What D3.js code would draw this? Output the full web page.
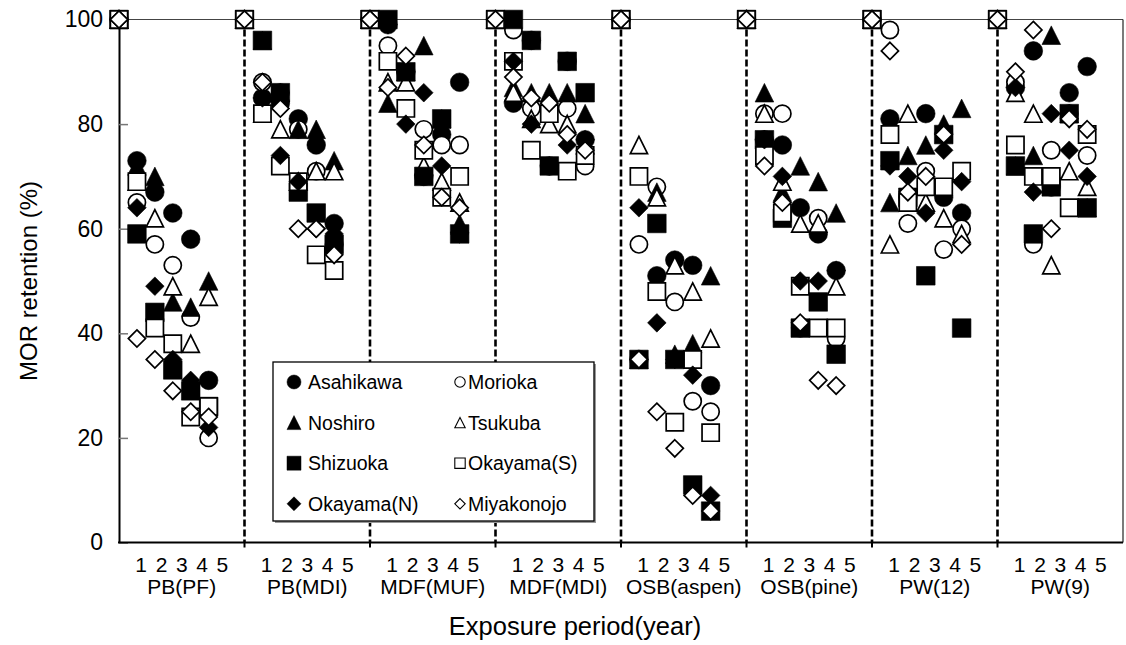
<!DOCTYPE html>
<html>
<head>
<meta charset="utf-8">
<script src="https://cdn.jsdelivr.net/npm/d3@7"></script>
<style>
  body { margin: 0; background: #fff; }
  text { font-family: "Liberation Sans", Arial, sans-serif; fill: #000; }
</style>
</head>
<body>
<div id="chart"></div>
<script>
// boards and exposure years
var panels = ["PB(PF)", "PB(MDI)", "MDF(MUF)", "MDF(MDI)", "OSB(aspen)", "OSB(pine)", "PW(12)", "PW(9)"];
var years = [1, 2, 3, 4, 5];
var start = 100; // year 0 value

// MOR retention (%) per site, 5 years per panel, panels in order above
var asahikawa  = [73,67,63,58,31, 85,84,81,76,61, 99,90,70,78,88, 84,96,72,92,77, 35,51,54,53,30, 77,76,64,59,52, 81,66,82,66,63, 87,94,68,86,91];
var morioka    = [65,57,53,43,20, 88,86,79,71,57, 95,90,79,76,76, 98,83,83,83,72, 57,68,46,27,25, 82,82,41,62,39, 98,61,71,56,60, 88,57,75,82,74];
var noshiro    = [72,70,46,45,50, 96,86,79,79,73, 84,90,95,81,61, 87,86,86,86,82, 35,67,36,38,51, 86,67,72,69,63, 65,74,76,80,83, 72,74,97,82,64];
var tsukuba    = [69,62,49,38,47, 82,79,69,71,71, 88,88,72,69,65, 86,81,80,80,76, 76,66,53,48,39, 82,69,61,61,49, 57,82,65,62,59, 86,82,53,71,68];
var shizuoka   = [59,44,33,29,26, 96,86,67,63,57, 100,90,70,81,59, 100,96,72,92,86, 35,61,35,11,6, 77,62,41,46,36, 73,66,51,78,41, 72,59,68,82,64];
var okayamaS   = [69,41,38,24,26, 82,72,69,55,52, 92,83,75,66,70, 92,75,82,71,74, 70,48,23,35,21, 74,63,49,41,41, 78,65,68,68,71, 76,70,70,64,78];
var okayamaN   = [64,49,35,31,22, 85,74,69,60,59, 99,80,86,72,59, 92,80,72,76,77, 64,42,35,32,9, 77,70,50,50,52, 72,70,63,75,69, 87,67,82,75,70];
var miyakonojo = [39,35,29,25,24, 88,83,60,60,55, 87,93,76,66,64, 89,85,84,78,75, 35,25,18,9,6, 72,65,42,31,30, 94,67,70,78,57, 90,98,60,81,79];

var sites = [
  { name: "Asahikawa",   shape: "circle",   filled: true,  values: asahikawa },
  { name: "Morioka",     shape: "circle",   filled: false, values: morioka },
  { name: "Noshiro",     shape: "triangle", filled: true,  values: noshiro },
  { name: "Tsukuba",     shape: "triangle", filled: false, values: tsukuba },
  { name: "Shizuoka",    shape: "square",   filled: true,  values: shizuoka },
  { name: "Okayama(S)",  shape: "square",   filled: false, values: okayamaS },
  { name: "Okayama(N)",  shape: "diamond",  filled: true,  values: okayamaN },
  { name: "Miyakonojo",  shape: "diamond",  filled: false, values: miyakonojo }
];

var yTicks = [0, 20, 40, 60, 80, 100];

var w = 1126, h = 645;
var slot = 7; // 6 year positions + gap per panel

var svg = d3.select("#chart").append("svg")
  .attr("width", w)
  .attr("height", h);

var x = d3.scaleLinear().domain([0, panels.length * slot]).range([119, 1123]);
var y = d3.scaleLinear().domain([0, 100]).range([542.5, 19.5]);

// marker path with half size s
function shapePath(shape, s) {
  if (shape == "circle") return d3.symbol(d3.symbolCircle, Math.PI * s * s)();
  if (shape == "square") return "M" + (-s) + "," + (-s) + "h" + 2 * s + "v" + 2 * s + "h" + (-2 * s) + "Z";
  if (shape == "triangle") return "M0," + (-s) + "L" + s + "," + s + "L" + (-s) + "," + s + "Z";
  return "M0," + (-s) + "L" + s + ",0L0," + s + "L" + (-s) + ",0Z";
}

// frame
svg.append("line").attr("x1", x(0)).attr("x2", x(56)).attr("y1", y(100)).attr("y2", y(100))
  .attr("stroke", "#444").attr("stroke-width", 1.2);
svg.append("line").attr("x1", x(56)).attr("x2", x(56)).attr("y1", y(100)).attr("y2", y(0))
  .attr("stroke", "#222").attr("stroke-width", 1.2);

// dashed separators between boards
var seps = d3.range(1, panels.length);
svg.append("g").selectAll("line").data(seps).enter().append("line")
  .attr("x1", function(d) { return x(d * slot); })
  .attr("x2", function(d) { return x(d * slot); })
  .attr("y1", y(100)).attr("y2", y(0))
  .attr("stroke", "#000").attr("stroke-width", 2.6)
  .attr("stroke-dasharray", "7,3");
// small ticks below the axis
svg.append("g").selectAll("line").data(seps).enter().append("line")
  .attr("x1", function(d) { return x(d * slot); })
  .attr("x2", function(d) { return x(d * slot); })
  .attr("y1", y(0)).attr("y2", y(0) + 5)
  .attr("stroke", "#000").attr("stroke-width", 2);

// y axis
var yAxis = svg.append("g")
  .attr("transform", "translate(" + x(0) + ",0)")
  .call(d3.axisLeft(y).tickValues(yTicks).tickSizeInner(-9).tickSizeOuter(0).tickPadding(16));
yAxis.select(".domain").attr("stroke", "#000").attr("stroke-width", 2);
yAxis.selectAll(".tick line").attr("stroke", "#777").attr("stroke-width", 1.5);
yAxis.selectAll(".tick text").style("font-size", "23px").attr("font-family", "Liberation Sans, Arial, sans-serif");

// bottom axis line
svg.append("line").attr("x1", x(0) - 1).attr("x2", x(56)).attr("y1", y(0)).attr("y2", y(0))
  .attr("stroke", "#000").attr("stroke-width", 2.2);

// year numbers and board names
panels.forEach(function(p, k) {
  var cx = x(k * slot + 3);
  years.forEach(function(yr, i) {
    svg.append("text")
      .attr("x", cx + 9 + (i - 2) * 20.3)
      .attr("y", 572)
      .attr("text-anchor", "middle")
      .style("font-size", "21px")
      .text(yr);
  });
  svg.append("text")
    .attr("x", cx + 9)
    .attr("y", 594)
    .attr("text-anchor", "middle")
    .style("font-size", "21px")
    .text(p);
});

// axis titles
svg.append("text")
  .attr("x", 575).attr("y", 635)
  .attr("text-anchor", "middle")
  .style("font-size", "25.5px")
  .text("Exposure period(year)");
svg.append("text")
  .attr("transform", "translate(37," + ((y(0) + y(100)) / 2) + ") rotate(-90)")
  .attr("text-anchor", "middle")
  .style("font-size", "24px")
  .text("MOR retention (%)");

// points: year 0 at 100, then years 1-5 for every board
var plot = svg.append("g");
sites.forEach(function(s) {
  var pts = [];
  panels.forEach(function(p, k) {
    pts.push({ t: k * slot, v: start });
    years.forEach(function(yr, i) {
      var v = s.values[k * years.length + i];
      if (v != null) pts.push({ t: k * slot + yr, v: v });
    });
  });
  plot.append("g").selectAll("path").data(pts).enter().append("path")
    .attr("transform", function(d) { return "translate(" + x(d.t) + "," + y(d.v) + ")"; })
    .attr("d", shapePath(s.shape, s.filled ? 9.3 : 8.6))
    .attr("fill", s.filled ? "#000" : "#fff")
    .attr("stroke", "#000")
    .attr("stroke-width", s.filled ? 0.6 : 1.7);
});

// legend
var legend = svg.append("g").attr("transform", "translate(273,362)");
legend.append("rect").attr("x", 2).attr("y", 2).attr("width", 321).attr("height", 159)
  .attr("fill", "#999");
legend.append("rect").attr("width", 321).attr("height", 159)
  .attr("fill", "#fff").attr("stroke", "#000").attr("stroke-width", 1.3);
sites.forEach(function(s, i) {
  var col = i % 2, row = Math.floor(i / 2);
  var g = legend.append("g").attr("transform", "translate(" + (col == 0 ? 21 : 187) + "," + (20 + row * 40.6) + ")");
  g.append("path")
    .attr("d", shapePath(s.shape, col == 0 ? 7 : 5.2))
    .attr("fill", s.filled ? "#000" : "#fff")
    .attr("stroke", "#000")
    .attr("stroke-width", s.filled ? 0.5 : 1.1);
  g.append("text")
    .attr("x", col == 0 ? 14 : 8)
    .attr("y", 7)
    .style("font-size", "19.5px")
    .text(s.name);
});
</script>
</body>
</html>
